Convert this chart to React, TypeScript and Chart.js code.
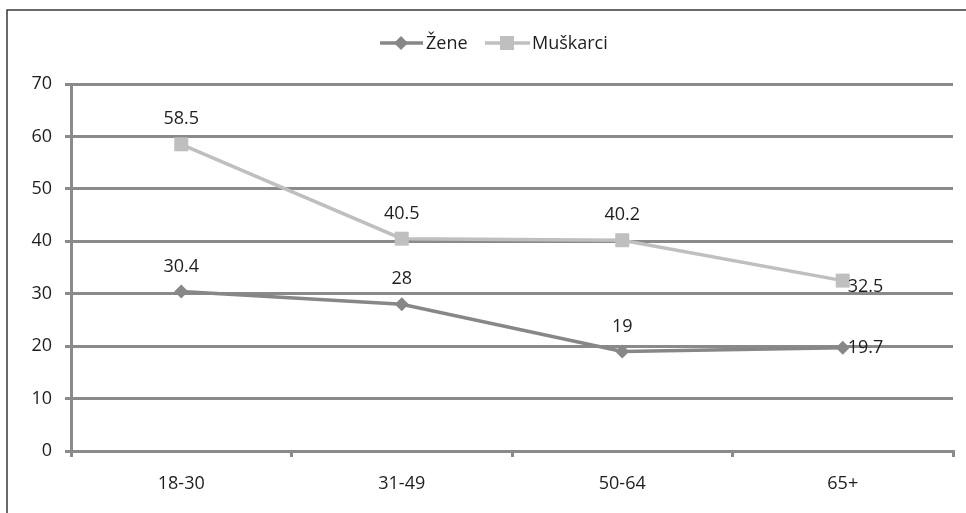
import React, { useEffect, useRef } from "react";
import { Chart, registerables } from "chart.js";

Chart.register(...registerables);

const categories = ["18-30", "31-49", "50-64", "65+"];
const zeneValues = [30.4, 28, 19, 19.7];
const muskarciValues = [58.5, 40.5, 40.2, 32.5];
const seriesNames = ["Žene", "Muškarci"];
const yTicks = [0, 10, 20, 30, 40, 50, 60, 70];

const ZENE_COLOR = "#878787";
const MUSK_COLOR = "#BFBFBF";
const GRID_COLOR = "#8A8A8A";
const TEXT_COLOR = "#1e1e1e";
const FONT_FAMILY = "'Open Sans', 'Noto Sans', sans-serif";

const frameAndLegend = {
  id: "frameAndLegend",
  beforeDraw(chart: any) {
    const ctx = chart.ctx;
    ctx.save();
    ctx.fillStyle = "#ffffff";
    ctx.fillRect(0, 0, chart.width, chart.height);
    ctx.strokeStyle = "#3a3a3a";
    ctx.lineWidth = 1.5;
    ctx.strokeRect(7, 10, chart.width + 50, chart.height + 50);
    ctx.restore();
  },
  afterDraw(chart: any) {
    const ctx = chart.ctx;
    ctx.save();
    const y = 43;
    ctx.font = `18px ${FONT_FAMILY}`;
    ctx.textBaseline = "middle";
    ctx.textAlign = "left";
    // Žene
    ctx.strokeStyle = ZENE_COLOR;
    ctx.lineWidth = 3.5;
    ctx.beginPath();
    ctx.moveTo(380, y);
    ctx.lineTo(423, y);
    ctx.stroke();
    ctx.fillStyle = ZENE_COLOR;
    ctx.beginPath();
    ctx.moveTo(401 - 7, y);
    ctx.lineTo(401, y - 7);
    ctx.lineTo(401 + 7, y);
    ctx.lineTo(401, y + 7);
    ctx.closePath();
    ctx.fill();
    ctx.fillStyle = TEXT_COLOR;
    ctx.fillText(seriesNames[0], 426, y + 1);
    // Muškarci
    ctx.strokeStyle = MUSK_COLOR;
    ctx.beginPath();
    ctx.moveTo(485, y);
    ctx.lineTo(530, y);
    ctx.stroke();
    ctx.fillStyle = MUSK_COLOR;
    ctx.fillRect(500, y - 7, 14, 14);
    ctx.fillStyle = TEXT_COLOR;
    ctx.fillText(seriesNames[1], 532, y + 1);
    ctx.restore();
  },
};

const dataLabels = {
  id: "dataLabels",
  afterDatasetsDraw(chart: any) {
    const ctx = chart.ctx;
    ctx.save();
    ctx.font = `18px ${FONT_FAMILY}`;
    ctx.fillStyle = TEXT_COLOR;
    chart.data.datasets.forEach((ds: any, di: number) => {
      const meta = chart.getDatasetMeta(di);
      meta.data.forEach((pt: any, i: number) => {
        const v = ds.data[i];
        const last = i === ds.data.length - 1;
        if (last) {
          ctx.textAlign = "left";
          ctx.textBaseline = "middle";
          ctx.fillText(String(v), pt.x + 5, pt.y + (di === 1 ? 6 : 0));
        } else {
          ctx.textAlign = "center";
          ctx.textBaseline = "middle";
          ctx.fillText(String(v), pt.x, pt.y - 25);
        }
      });
    });
    ctx.restore();
  },
};

export default function App() {
  const ref = useRef<HTMLCanvasElement | null>(null);
  useEffect(() => {
    if (!ref.current) return;
    const chart = new Chart(ref.current, {
      type: "line",
      data: {
        labels: categories,
        datasets: [
          {
            label: seriesNames[0],
            data: zeneValues,
            borderColor: ZENE_COLOR,
            backgroundColor: ZENE_COLOR,
            borderWidth: 3.5,
            pointStyle: "rectRot",
            pointRadius: 7,
            pointBorderWidth: 0,
            pointBackgroundColor: ZENE_COLOR,
            tension: 0,
          },
          {
            label: seriesNames[1],
            data: muskarciValues,
            borderColor: MUSK_COLOR,
            backgroundColor: MUSK_COLOR,
            borderWidth: 3.5,
            pointStyle: "rect",
            pointRadius: 9.9,
            pointBorderWidth: 0,
            pointBackgroundColor: MUSK_COLOR,
            tension: 0,
          },
        ],
      },
      options: {
        responsive: false,
        animation: false,
        layout: { padding: { left: 0, top: 84, right: 13, bottom: 0 } },
        plugins: {
          legend: { display: false },
          tooltip: { enabled: false },
        },
        scales: {
          x: {
            type: "category",
            offset: true,
            grid: {
              offset: true,
              drawOnChartArea: false,
              drawTicks: true,
              tickLength: 6,
              color: GRID_COLOR,
              lineWidth: 3,
            },
            border: { display: true, color: GRID_COLOR, width: 3 },
            ticks: {
              color: TEXT_COLOR,
              font: { family: FONT_FAMILY, size: 18 },
              padding: 16,
              maxRotation: 0,
            },
            afterFit(scale: any) {
              scale.height = 62;
            },
          },
          y: {
            min: yTicks[0],
            max: yTicks[yTicks.length - 1],
            afterBuildTicks(scale: any) {
              scale.ticks = yTicks.map((v) => ({ value: v }));
            },
            grid: {
              color: GRID_COLOR,
              lineWidth: 3,
              drawTicks: true,
              tickLength: 6,
            },
            border: { display: true, color: GRID_COLOR, width: 3 },
            ticks: {
              color: TEXT_COLOR,
              font: { family: FONT_FAMILY, size: 18 },
              padding: 13,
            },
            afterFit(scale: any) {
              scale.width = 71;
            },
          },
        },
      },
      plugins: [frameAndLegend, dataLabels],
    } as any);
    return () => chart.destroy();
  }, []);
  return (
    <div style={{ position: "absolute", left: 0, top: 0, width: 966, height: 513 }}>
      <canvas ref={ref} width={966} height={513} style={{ display: "block" }} />
    </div>
  );
}
